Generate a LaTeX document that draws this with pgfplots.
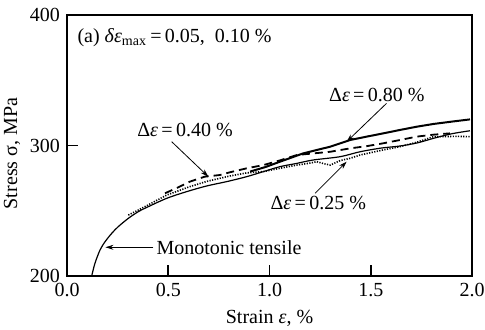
\documentclass[border=0pt]{standalone}
\usepackage{fontspec}
\setmainfont{Liberation Serif}
\usepackage{pgfplots}
\pgfplotsset{compat=1.18}
\usetikzlibrary{arrows.meta,calc}
\begin{document}
\begin{tikzpicture}
\begin{axis}[
  name=ax,
  scale only axis,
  width=202.5pt, height=130.5pt,
  xmin=0, xmax=2, ymin=200, ymax=400,
  xtick={0,0.5,1,1.5,2},
  ytick={200,300,400},
  xticklabels={0.0,0.5,1.0,1.5,2.0},
  yticklabels={200,300,400},
  tick align=inside,
  xtick pos=bottom, ytick pos=left,
  major tick length=5.5pt,
  axis line style={line width=1pt},
  every tick/.style={black, line width=0.8pt},
  /pgf/number format/assume math mode=true,
  tick label style={font=\rmfamily\fontsize{10}{12}\selectfont},
  xlabel={Strain \textit{ε}, \%},
  ylabel={Stress σ, MPa},
  label style={font=\rmfamily\fontsize{10}{12}\selectfont},
  xlabel style={yshift=0pt},
  ylabel style={yshift=-2pt, xshift=-4pt},
  clip=false,
]
% Monotonic tensile
\addplot[black, line width=0.6pt, smooth] coordinates {
(0.122,200) (0.138,209.7) (0.163,219.9) (0.188,226.3) (0.221,232.7) (0.253,237.8)
(0.303,244.2) (0.352,249.3) (0.393,252.5)
(0.492,259.5) (0.59,264.6) (0.69,269) (0.788,272.3) (0.887,276.1)
(0.97,280) (1.052,283.8) (1.135,286.3) (1.216,288.9) (1.348,291.4)
(1.447,295.2) (1.55,298) (1.644,299.6) (1.73,302) (1.81,305.5) (1.9,309) (1.99,311.3)};
% Delta eps = 0.80
\addplot[black, line width=1pt] coordinates {
(0.904,280) (0.98,283.5) (1.052,287.6) (1.167,294) (1.3,299.1) (1.398,304.2)
(1.48,306.8) (1.562,309.3) (1.644,311.9) (1.727,314.4) (1.81,316.5) (1.9,318.3) (1.99,320)};
% Delta eps = 0.40
\addplot[black, line width=0.9pt, dash pattern=on 4pt off 2.5pt] coordinates {
(0.484,263.4) (0.55,268) (0.607,272.3) (0.68,276.1) (0.756,277.4) (0.805,279.5)
(0.887,282.5) (0.97,285) (1.05,288.5) (1.135,292.7) (1.22,294) (1.3,295.2) (1.398,297.8)
(1.48,299.5) (1.562,301.7) (1.644,304.2) (1.727,306.8) (1.81,308.3) (1.891,309.3)};
% Delta eps = 0.25
\addplot[black, line width=0.8pt, dash pattern=on 0.6pt off 0.7pt] coordinates {
(0.303,246.7) (0.393,253.8) (0.492,262) (0.607,268.5) (0.69,272.5) (0.8,276.5)
(0.887,279) (0.97,280) (1.05,282.5) (1.135,285) (1.2,286.5) (1.233,287.6) (1.27,286) (1.3,285)
(1.35,288.5) (1.398,290.2) (1.447,292.7) (1.5,294.5) (1.562,296.6) (1.644,299.1)
(1.727,302.5) (1.81,306.8) (1.85,306.8) (1.92,307) (1.99,306.8)};
% annotations
\node[anchor=west, font=\fontsize{10}{12}\selectfont, inner sep=0pt] at (axis cs:0.05,383)
  {(a) \textit{δε}\textsubscript{max}\,=\,0.05,\enspace 0.10 \%};
\node[font=\fontsize{10}{12}\selectfont, inner sep=0pt] at (axis cs:1.53,338.7)
  {Δ\textit{ε}\,=\,0.80 \%};
\node[font=\fontsize{10}{12}\selectfont, inner sep=0pt] at (axis cs:0.583,311.9)
  {Δ\textit{ε}\,=\,0.40 \%};
\node[font=\fontsize{10}{12}\selectfont, inner sep=0pt] at (axis cs:1.241,255.7)
  {Δ\textit{ε}\,=\,0.25 \%};
\node[anchor=west, font=\fontsize{10}{12}\selectfont, inner sep=0pt] at (axis cs:0.44,221.5)
  {Monotonic tensile};
\draw[-{Stealth[length=4pt,width=2.5pt]}, line width=0.4pt] (axis cs:1.578,332.3) -- (axis cs:1.381,302.9);
\draw[-{Stealth[length=4pt,width=2.5pt]}, line width=0.4pt] (axis cs:0.517,302.9) -- (axis cs:0.698,276.1);
\draw[-{Stealth[length=4pt,width=2.5pt]}, line width=0.4pt] (axis cs:1.225,263.4) -- (axis cs:1.381,287.6);
\draw[-{Stealth[length=4pt,width=2.5pt]}, line width=0.4pt] (axis cs:0.426,222) -- (axis cs:0.19,222);
\end{axis}
\pgfresetboundingbox
\path[use as bounding box] ($(ax.south west)+(-33.5pt,-27pt)$) rectangle ($(ax.north east)+(6.5pt,7.5pt)$);
\end{tikzpicture}
\end{document}
